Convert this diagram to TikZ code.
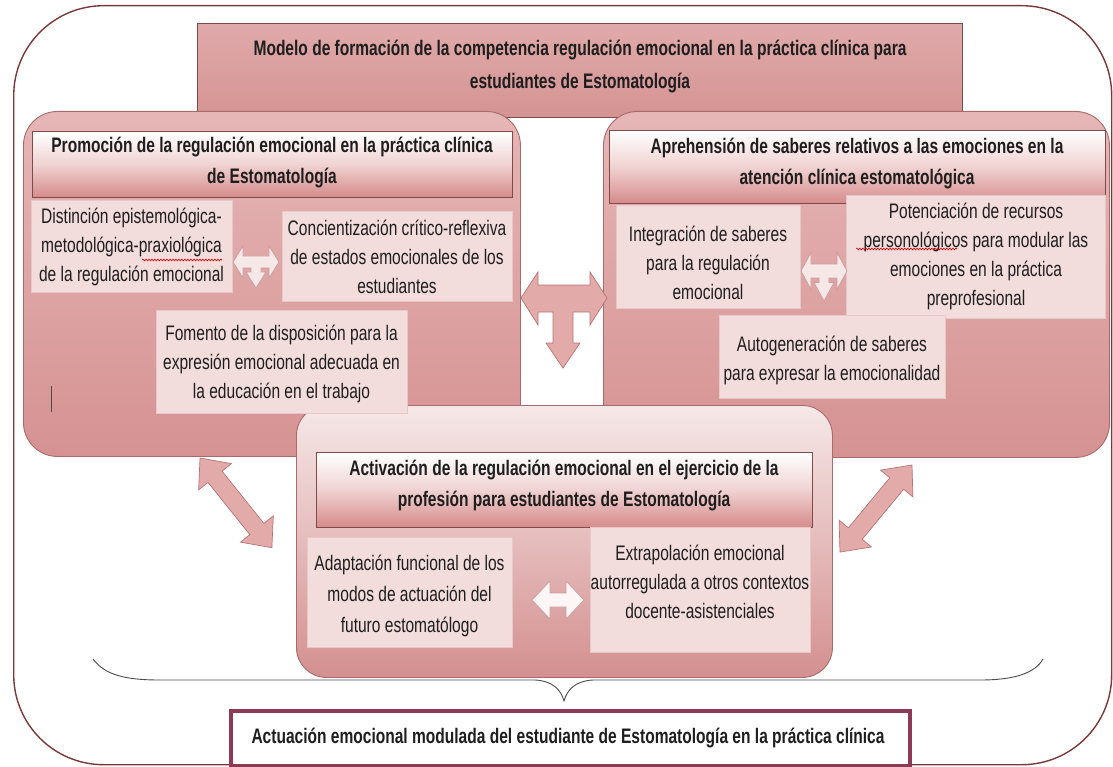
\documentclass[tikz,border=0pt]{standalone}
\usepackage{fontspec}
\setmainfont{Liberation Sans}[FakeStretch=0.74]
\usetikzlibrary{decorations.pathmorphing}
\definecolor{framec}{HTML}{7A3838}
\definecolor{panelline}{HTML}{A86A6A}
\definecolor{panelT}{HTML}{E6B6B6}
\definecolor{panelB}{HTML}{D69292}
\definecolor{apT}{HTML}{F6E8E8}
\definecolor{apB}{HTML}{D48F8F}
\definecolor{titleT}{HTML}{E0AAAA}
\definecolor{titleB}{HTML}{D59393}
\definecolor{hdrline}{HTML}{7E4B4B}
\definecolor{hdrM}{HTML}{F0D2D2}
\definecolor{hdrB}{HTML}{D68A8A}
\definecolor{boxfill}{HTML}{F3DCDC}
\definecolor{boxline}{HTML}{E6C8C8}
\definecolor{arrowfill}{HTML}{E3AAAA}
\definecolor{arrowline}{HTML}{B87474}
\definecolor{tfill}{HTML}{F7E8E8}
\definecolor{tline}{HTML}{CC9C9C}
\definecolor{botline}{HTML}{8E3A57}
\definecolor{txtc}{HTML}{1E1E1E}
\newcommand{\bodyfont}{\fontsize{21}{29}\selectfont}
\newcommand{\headfont}{\fontsize{21}{31}\selectfont\bfseries}
\begin{document}
\begin{tikzpicture}[x=1pt,y=-1pt,
  framebox/.style={draw=framec, line width=1.4pt, rounded corners=90pt, anchor=north west, inner sep=0pt},
  titlebox/.style={draw=hdrline, line width=0.9pt, top color=titleT, bottom color=titleB, anchor=north west, inner sep=0pt},
  panel/.style={draw=panelline, line width=0.9pt, rounded corners=34pt, top color=panelT, bottom color=panelB, anchor=north west, inner sep=0pt},
  apanel/.style={draw=panelline, line width=0.9pt, rounded corners=30pt, top color=apT, bottom color=apB, anchor=north west, inner sep=0pt},
  hdr/.style={draw=hdrline, line width=0.9pt, top color=white, bottom color=hdrB, middle color=hdrM, anchor=north west, inner sep=0pt},
  box/.style={fill=boxfill, draw=boxline, line width=0.5pt, anchor=north west, inner sep=0pt},
  txt/.style={font=\bodyfont, align=center, inner sep=0pt, text=txtc},
  htxt/.style={font=\headfont, align=center, inner sep=0pt, text=txtc},
  bigarrow/.style={fill=arrowfill, draw=arrowline, line width=0.7pt, line join=miter},
  tarrow/.style={fill=tfill, draw=tline, line width=0.7pt},
  bracec/.style={draw=black!70, line width=0.9pt},
  squig/.style={draw=red!85!black, line width=0.6pt, decorate, decoration={snake, amplitude=0.9pt, segment length=3pt}}
]
\useasboundingbox (0,0) rectangle (1113,767);

% outer frame
\node[framebox, minimum width=1098pt, minimum height=759pt] (frame) at (13,5) {};

% brace
\draw[bracec] (93,659) .. controls (105,675) and (125,680) .. (160,680) -- (535,680)
  .. controls (553,681) and (561,690) .. (564,701)
  .. controls (567,690) and (575,681) .. (593,680) -- (980,680)
  .. controls (1015,680) and (1035,673) .. (1043,659);

% title
\node[titlebox, minimum width=765pt, minimum height=94pt] (title) at (197,23) {};
\node[htxt, font=\fontsize{21}{33}\selectfont\bfseries] (titletxt) at (580,67)
  {Modelo de formación de la competencia regulación emocional en la práctica clínica para\\estudiantes de Estomatología};

% left panel
\node[panel, minimum width=497pt, minimum height=345pt] (lp) at (23,111) {};
\node[hdr, minimum width=480pt, minimum height=66pt] (hl) at (32,131) {};
\node[htxt] (hltxt) at (272,163) {Promoción de la regulación emocional en la práctica clínica\\de Estomatología};
\node[box, minimum width=201pt, minimum height=92pt] (d1) at (31,200) {};
\node[txt] (d1t) at (131.5,247) {Distinción epistemológica-\\metodológica-praxiológica\\de la regulación emocional};
\node[box, minimum width=230pt, minimum height=90pt] (d2) at (282,211) {};
\node[txt] (d2t) at (397,257) {Concientización crítico-reflexiva\\de estados emocionales de los\\estudiantes};
\begin{scope}[shift={(256,262)}]
\draw[tarrow] (-23,0) -- (-13,-16) -- (-13,-6) -- (13,-6) -- (13,-16) -- (23,0) -- (13,16) -- (13,6)
  -- (5,6) -- (5,10) -- (10,10) -- (0,26) -- (-10,10) -- (-5,10) -- (-5,6) -- (-13,6) -- (-13,16) -- cycle;
\end{scope}
\draw[line width=1pt, black!70] (51,386) -- (51,412);

% right panel
\node[panel, minimum width=506pt, minimum height=346pt] (rp) at (603,111) {};
\node[hdr, minimum width=496pt, minimum height=73pt] (hr) at (609,130) {};
\node[htxt] (hrtxt) at (857,164) {Aprehensión de saberes relativos a las emociones en la\\atención clínica estomatológica};
\node[box, minimum width=184pt, minimum height=103pt] (e1) at (616,205) {};
\node[txt] (e1t) at (708,263) {Integración de saberes\\para la regulación\\emocional};
\node[box, minimum width=259pt, minimum height=123pt] (e2) at (846,195) {};
\node[txt] (e2t) at (976,256) {Potenciación de recursos\\personológicos para modular las\\emociones en la práctica\\preprofesional};
\node[box, minimum width=226pt, minimum height=83pt] (e3) at (719,315) {};
\node[txt] (e3t) at (832,360) {Autogeneración de saberes\\para expresar la emocionalidad};
\begin{scope}[shift={(824,271)}, yscale=1.15]
\draw[tarrow] (-23,0) -- (-13,-16) -- (-13,-6) -- (13,-6) -- (13,-16) -- (23,0) -- (13,16) -- (13,6)
  -- (5,6) -- (5,10) -- (10,10) -- (0,26) -- (-10,10) -- (-5,10) -- (-5,6) -- (-13,6) -- (-13,16) -- cycle;
\end{scope}

% central T arrow
\draw[bigarrow] (521,298) -- (538,272) -- (538,285) -- (590,285) -- (590,272) -- (607,298) -- (590,325)
  -- (590,312) -- (573,312) -- (573,343) -- (580,343) -- (563,368) -- (546,343) -- (553,343)
  -- (553,312) -- (538,312) -- (538,325) -- cycle;

% activation panel
\node[apanel, minimum width=536pt, minimum height=272pt] (ap) at (296,405) {};
\node[hdr, minimum width=496pt, minimum height=75pt] (ha) at (316,452) {};
\node[htxt] (hatxt) at (564,486) {Activación de la regulación emocional en el ejercicio de la\\profesión para estudiantes de Estomatología};
\node[box, minimum width=205pt, minimum height=110pt] (f1) at (307,537) {};
\node[txt, font=\fontsize{21}{31}\selectfont] (f1t) at (409.5,596) {Adaptación funcional de los\\modos de actuación del\\futuro estomatólogo};
\node[box, minimum width=220pt, minimum height=125pt] (f2) at (590,527) {};
\node[txt] (f2t) at (700,582) {Extrapolación emocional\\autorregulada a otros contextos\\docente-asistenciales};
\begin{scope}[shift={(532,600)}]
\draw[tarrow, fill=white!60!tfill] (0,0) -- (18,-19) -- (18,-7) -- (34,-7) -- (34,-19) -- (52,0) -- (34,19) -- (34,7) -- (18,7) -- (18,19) -- cycle;
\end{scope}

% Fomento box (overlaps activation panel top)
\node[box, minimum width=251pt, minimum height=103pt] (d3) at (156,310) {};
\node[txt] (d3t) at (281.5,364) {Fomento de la disposición para la\\expresión emocional adecuada en\\la educación en el trabajo};

% diagonal arrows
\begin{scope}[shift={(200,458)}, rotate=-51.3]
\draw[bigarrow] (0,0) -- (24,-21) -- (24,-9) -- (91,-9) -- (91,-21) -- (115,0) -- (91,21) -- (91,9) -- (24,9) -- (24,21) -- cycle;
\end{scope}
\begin{scope}[shift={(912,465)}, rotate=-129.6]
\draw[bigarrow] (0,0) -- (24,-21) -- (24,-9) -- (89,-9) -- (89,-21) -- (113,0) -- (89,21) -- (89,9) -- (24,9) -- (24,21) -- cycle;
\end{scope}

% bottom box
\node[draw=botline, line width=4pt, fill=white, anchor=north west, inner sep=0pt, minimum width=679pt, minimum height=55pt] (bot) at (229,709) {};
\node[htxt] (bott) at (568,738) {Actuación emocional modulada del estudiante de Estomatología en la práctica clínica};

% spell-check squiggles
\draw[squig] (142,260) -- (222,260);
\draw[squig] (856,249) -- (957,249);
\end{tikzpicture}
\end{document}
